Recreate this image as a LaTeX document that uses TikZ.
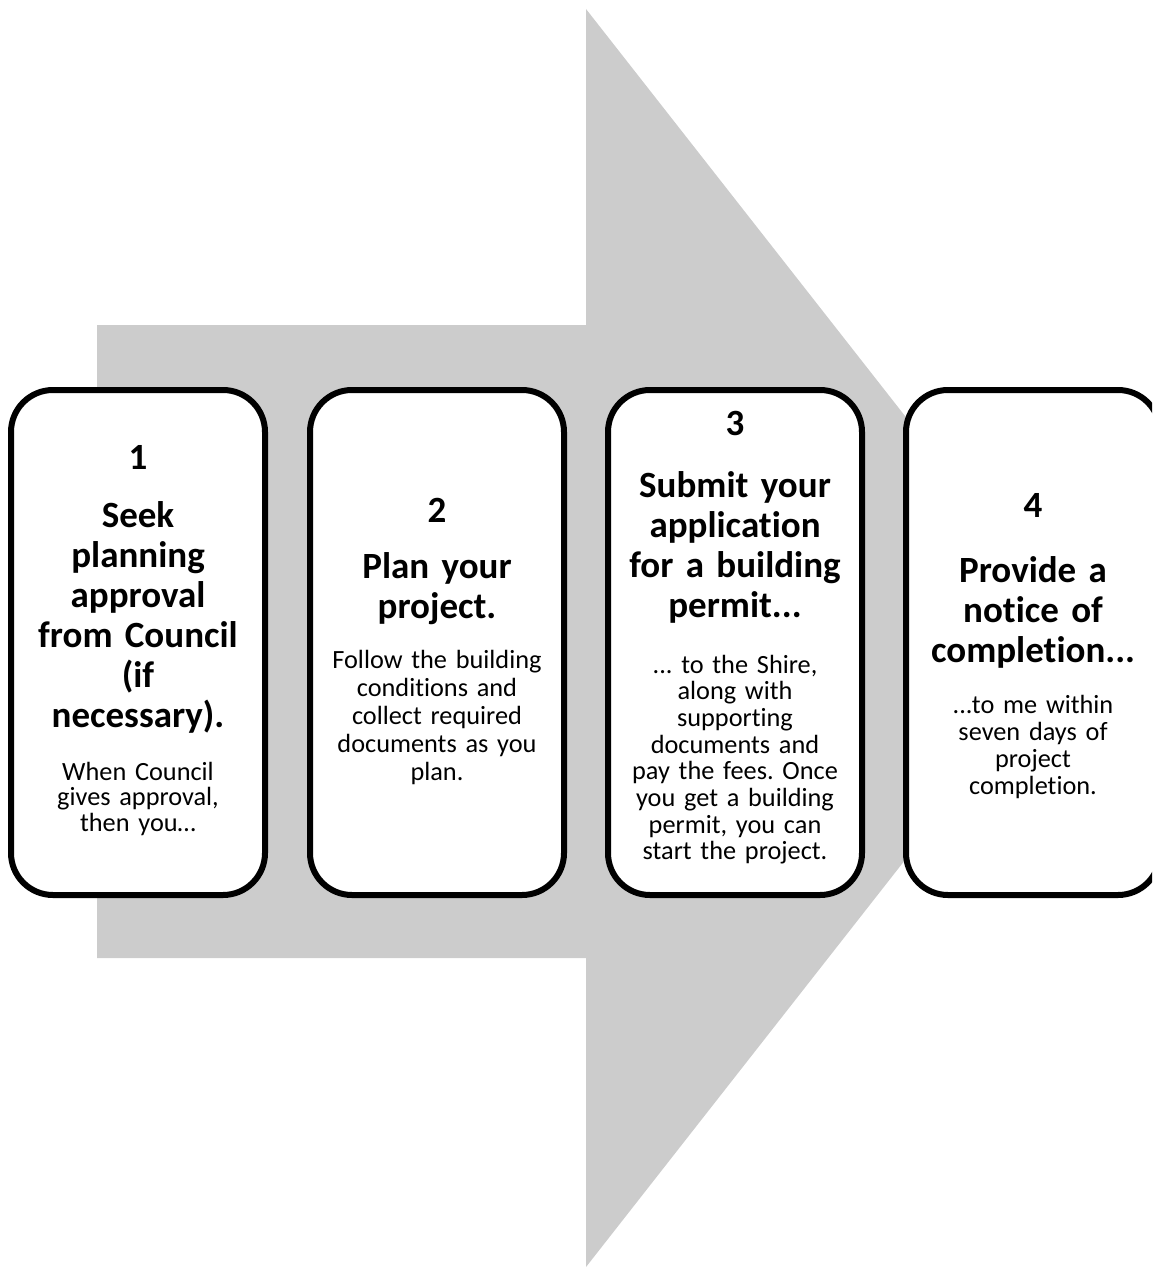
\documentclass[tikz,border=0pt]{standalone}
\usepackage{fontspec}
\setmainfont{Carlito}[Ligatures=NoCommon]
\definecolor{arrowgray}{RGB}{204,204,204}
\begin{document}
\frenchspacing
\begin{tikzpicture}[x=1pt,y=-1pt,
  stepbox/.style={draw=black, line width=6pt, rounded corners=42pt, minimum width=254pt, minimum height=505pt, fill=white, inner sep=0pt},
  numtxt/.style={font=\bfseries\fontsize{37}{40}\selectfont, anchor=base, inner sep=0pt},
  titletxt/.style={font=\bfseries\fontsize{37}{40}\selectfont, anchor=base, align=center, text width=250pt, inner sep=0pt},
  bodytxt/.style={font=\fontsize{26.3}{#1}\selectfont, anchor=base, align=center, text width=250pt, inner sep=0pt},
]
\useasboundingbox (0,0) rectangle (1152,1268);
\clip (0,0) rectangle (1152,1268);
% big arrow
\fill[arrowgray] (97,325) -- (586,325) -- (586,9) -- (1079,638) -- (586,1267) -- (586,958) -- (97,958) -- cycle;
% boxes
\node[stepbox] (b1) at (138,642.5) {};
\node[stepbox] (b2) at (437,642.5) {};
\node[stepbox] (b3) at (735,642.5) {};
\node[stepbox] (b4) at (1033,642.5) {};
% box 1
\node[numtxt] (n1) at (138,469) {1};
\node[titletxt] (t1) at (138,527) {Seek\\planning\\approval\\from Council\\(if\\necessary).};
\node[bodytxt=25.5pt] (d1) at (138,780) {When Council\\gives approval,\\then you…};
% box 2
\node[numtxt] (n2) at (437,522) {2};
\node[titletxt] (t2) at (437,578) {Plan your\\project.};
\node[bodytxt=28pt] (d2) at (437,668) {Follow the building\\conditions and\\collect required\\documents as you\\plan.};
% box 3
\node[numtxt] (n3) at (735,435) {3};
\node[titletxt] (t3) at (735,497) {Submit your\\application\\for a building\\permit...};
\node[bodytxt=26.7pt] (d3) at (735,673) {... to the Shire,\\along with\\supporting\\documents and\\pay the fees. Once\\you get a building\\permit, you can\\start the project.};
% box 4
\node[numtxt] (n4) at (1033,517) {4};
\node[titletxt] (t4) at (1033,582) {Provide a\\notice of\\completion...};
\node[bodytxt=27.3pt] (d4) at (1033,713) {...to me within\\seven days of\\project\\completion.};
\end{tikzpicture}
\end{document}
